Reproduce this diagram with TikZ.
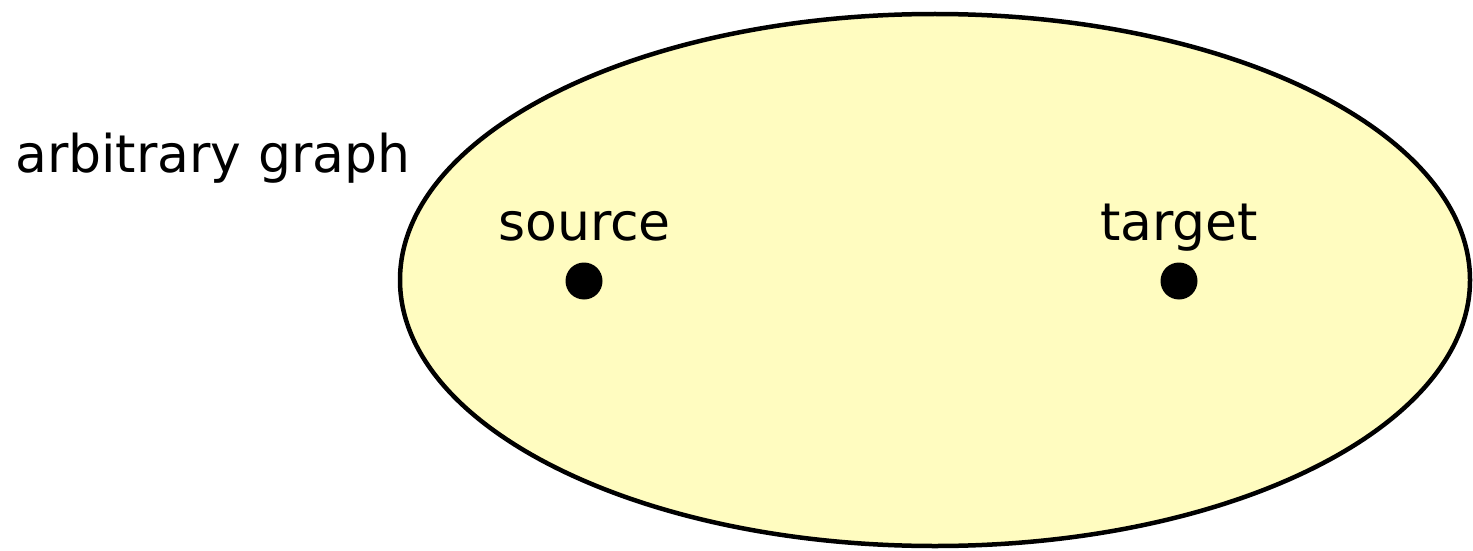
\documentclass[tikz,border=0pt]{standalone}
\usepackage{fontspec}
\setmainfont{DejaVu Sans}
\begin{document}
\begin{tikzpicture}[x=1pt,y=-1pt,
  lbl/.style={font=\fontsize{52}{60}\selectfont, inner sep=0pt, anchor=base west},
  vtx/.style={circle, fill=black, minimum size=37pt, inner sep=0pt}]
\useasboundingbox (0,0) rectangle (1473,551);
\draw[line width=4.5pt, fill={rgb,255:red,255;green,252;blue,192}] (935,280) ellipse [x radius=535, y radius=266];
\node[lbl] (ag) at (15,172) {arbitrary graph};
\node[lbl] (src) at (498,240) {source};
\node[lbl] (tgt) at (1100,240) {target};
\node[vtx] (s) at (584,281) {};
\node[vtx] (t) at (1179,281) {};
\end{tikzpicture}
\end{document}
